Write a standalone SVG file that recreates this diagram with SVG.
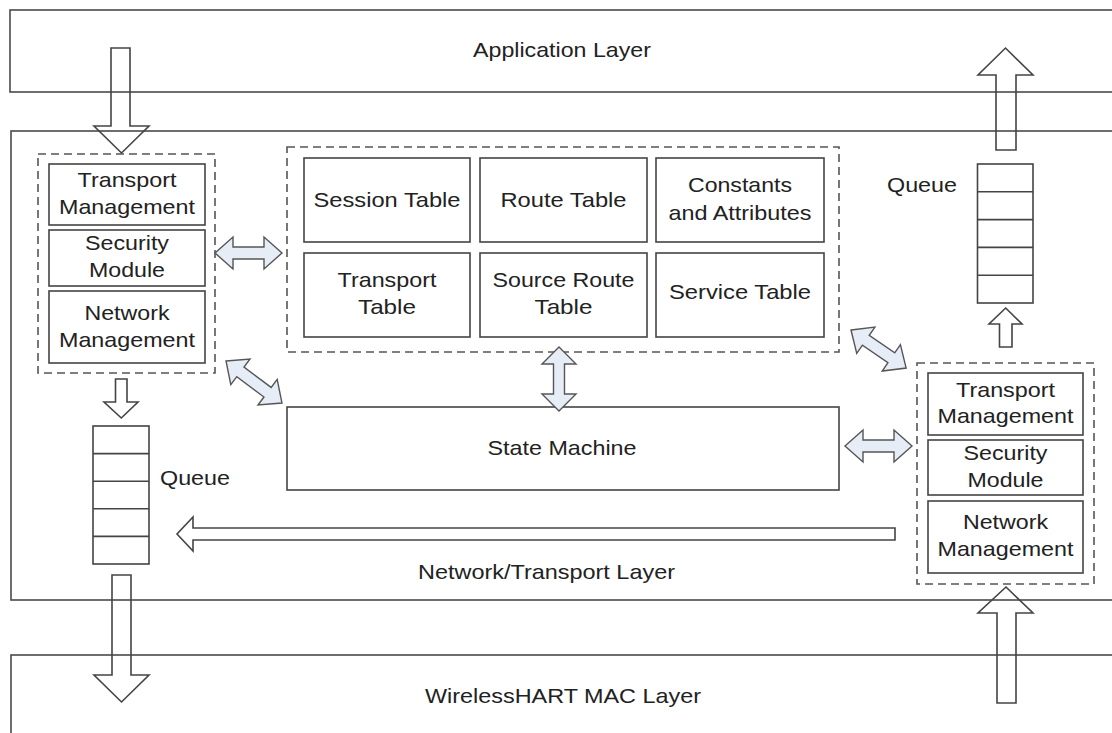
<svg xmlns="http://www.w3.org/2000/svg" width="1112" height="733" viewBox="0 0 1112 733">
<style>
.layer{fill:none;stroke:#4a4a4a;stroke-width:1.6}
.box{fill:#fff;stroke:#444;stroke-width:1.6}
.dash{fill:none;stroke:#555;stroke-width:1.6;stroke-dasharray:8 5}
.blk{fill:none;stroke:#444;stroke-width:1.6;stroke-linejoin:miter}
.dbl{fill:#e6edf7;stroke:#555;stroke-width:1.4;stroke-linejoin:miter}
.cell{fill:none;stroke:#444;stroke-width:1.6}
text{font-family:"Liberation Sans",Arial,sans-serif;font-size:21px;fill:#222;text-anchor:middle}
.ls{text-anchor:start}
</style>
<rect width="1112" height="733" fill="#fff"/>

<g id="application-layer">
<rect class="layer" x="10" y="10" width="1120" height="82"/>
<text x="562" y="57" textLength="178" lengthAdjust="spacingAndGlyphs">Application Layer</text>
</g>

<g id="network-transport-layer">
<rect class="layer" x="11" y="131" width="1120" height="469"/>
<text x="546.5" y="579" textLength="257" lengthAdjust="spacingAndGlyphs">Network/Transport Layer</text>
</g>

<g id="mac-layer">
<rect class="layer" x="11" y="655" width="1120" height="100"/>
<text x="563" y="703" textLength="276" lengthAdjust="spacingAndGlyphs">WirelessHART MAC Layer</text>
</g>

<g id="left-modules">
<rect class="dash" x="38" y="154" width="177" height="219"/>
<rect class="box" x="49" y="164" width="156" height="61"/>
<text x="127" y="187" textLength="99" lengthAdjust="spacingAndGlyphs">Transport</text>
<text x="127" y="214" textLength="136" lengthAdjust="spacingAndGlyphs">Management</text>
<rect class="box" x="49" y="230" width="156" height="56"/>
<text x="127" y="250" textLength="84" lengthAdjust="spacingAndGlyphs">Security</text>
<text x="127" y="277" textLength="76" lengthAdjust="spacingAndGlyphs">Module</text>
<rect class="box" x="49" y="291" width="156" height="72"/>
<text x="127" y="320" textLength="85" lengthAdjust="spacingAndGlyphs">Network</text>
<text x="127" y="347" textLength="136" lengthAdjust="spacingAndGlyphs">Management</text>
</g>

<g id="tables">
<rect class="dash" x="287" y="147" width="552" height="205"/>
<rect class="cell" x="304" y="158" width="166" height="84"/>
<text x="387" y="207" textLength="147" lengthAdjust="spacingAndGlyphs">Session Table</text>
<rect class="cell" x="480" y="158" width="167" height="84"/>
<text x="563.5" y="207" textLength="126" lengthAdjust="spacingAndGlyphs">Route Table</text>
<rect class="cell" x="656" y="158" width="168" height="84"/>
<text x="740" y="192" textLength="104" lengthAdjust="spacingAndGlyphs">Constants</text>
<text x="740" y="220" textLength="143" lengthAdjust="spacingAndGlyphs">and Attributes</text>
<rect class="cell" x="304" y="253" width="166" height="84"/>
<text x="387" y="287" textLength="99" lengthAdjust="spacingAndGlyphs">Transport</text>
<text x="387" y="314" textLength="58" lengthAdjust="spacingAndGlyphs">Table</text>
<rect class="cell" x="480" y="253" width="167" height="84"/>
<text x="563.5" y="287" textLength="142" lengthAdjust="spacingAndGlyphs">Source Route</text>
<text x="563.5" y="314" textLength="58" lengthAdjust="spacingAndGlyphs">Table</text>
<rect class="cell" x="656" y="253" width="168" height="84"/>
<text x="740" y="299" textLength="142" lengthAdjust="spacingAndGlyphs">Service Table</text>
</g>

<g id="state-machine">
<rect class="box" x="287" y="407" width="552" height="83"/>
<text x="562" y="455" textLength="149" lengthAdjust="spacingAndGlyphs">State Machine</text>
</g>

<g id="right-modules">
<rect class="dash" x="917" y="363" width="177" height="221"/>
<rect class="box" x="928" y="373" width="155" height="62"/>
<text x="1005.5" y="397" textLength="99" lengthAdjust="spacingAndGlyphs">Transport</text>
<text x="1005.5" y="423" textLength="136" lengthAdjust="spacingAndGlyphs">Management</text>
<rect class="box" x="928" y="440" width="155" height="55"/>
<text x="1005.5" y="460" textLength="84" lengthAdjust="spacingAndGlyphs">Security</text>
<text x="1005.5" y="487" textLength="76" lengthAdjust="spacingAndGlyphs">Module</text>
<rect class="box" x="928" y="501" width="155" height="72"/>
<text x="1005.5" y="529" textLength="85" lengthAdjust="spacingAndGlyphs">Network</text>
<text x="1005.5" y="556" textLength="136" lengthAdjust="spacingAndGlyphs">Management</text>
</g>

<g id="left-queue">
<rect class="cell" x="93" y="426" width="56" height="138"/>
<path class="cell" d="M93,453.6H149M93,481.2H149M93,508.8H149M93,536.4H149"/>
<text class="ls" x="160" y="485" textLength="70" lengthAdjust="spacingAndGlyphs">Queue</text>
</g>

<g id="right-queue">
<rect class="cell" x="977.5" y="164" width="55.5" height="139"/>
<path class="cell" d="M977.5,191.8H1033M977.5,219.6H1033M977.5,247.4H1033M977.5,275.2H1033"/>
<text class="ls" x="887" y="192" textLength="70" lengthAdjust="spacingAndGlyphs">Queue</text>
</g>

<g id="connectors">
<polygon class="blk" points="111,48 130,48 130,126 149,126 121.5,153 94,126 111,126"/>
<polygon class="blk" points="996,150 1016,150 1016,75 1033,75 1005.5,48 978,75 996,75"/>
<polygon class="blk" points="115.5,379 127,379 127,402 138,402 121.3,418 104,402 115.5,402"/>
<polygon class="blk" points="999.5,347 1012,347 1012,324 1022,324 1005.7,308 989,324 999.5,324"/>
<polygon class="blk" points="895,528 193,528 193,517 177,534 193,551 193,540 895,540"/>
<polygon class="blk" points="112,575 131,575 131,675 149,675 121.5,702 94,675 112,675"/>
<polygon class="blk" points="997,703 1016,703 1016,613 1033,613 1006,587 978,613 997,613"/>
<path class="dbl" transform="translate(215,253)" d="M0,0 L18,-16 L18,-6 L49,-6 L49,-16 L67,0 L49,16 L49,6 L18,6 L18,16 Z"/>
<path class="dbl" transform="translate(845,446)" d="M0,0 L18,-16 L18,-6 L49,-6 L49,-16 L67,0 L49,16 L49,6 L18,6 L18,16 Z"/>
<path class="dbl" transform="translate(559,347) rotate(90)" d="M0,0 L17,-17 L17,-5.5 L47,-5.5 L47,-17 L64,0 L47,17 L47,5.5 L17,5.5 L17,17 Z"/>
<path class="dbl" transform="translate(226,361) rotate(36.9)" d="M0,0 L18,-16 L18,-6 L52,-6 L52,-16 L70,0 L52,16 L52,6 L18,6 L18,16 Z"/>
<path class="dbl" transform="translate(851,330) rotate(34.6)" d="M0,0 L18,-16 L18,-6 L49,-6 L49,-16 L67,0 L49,16 L49,6 L18,6 L18,16 Z"/>
</g>
</svg>
